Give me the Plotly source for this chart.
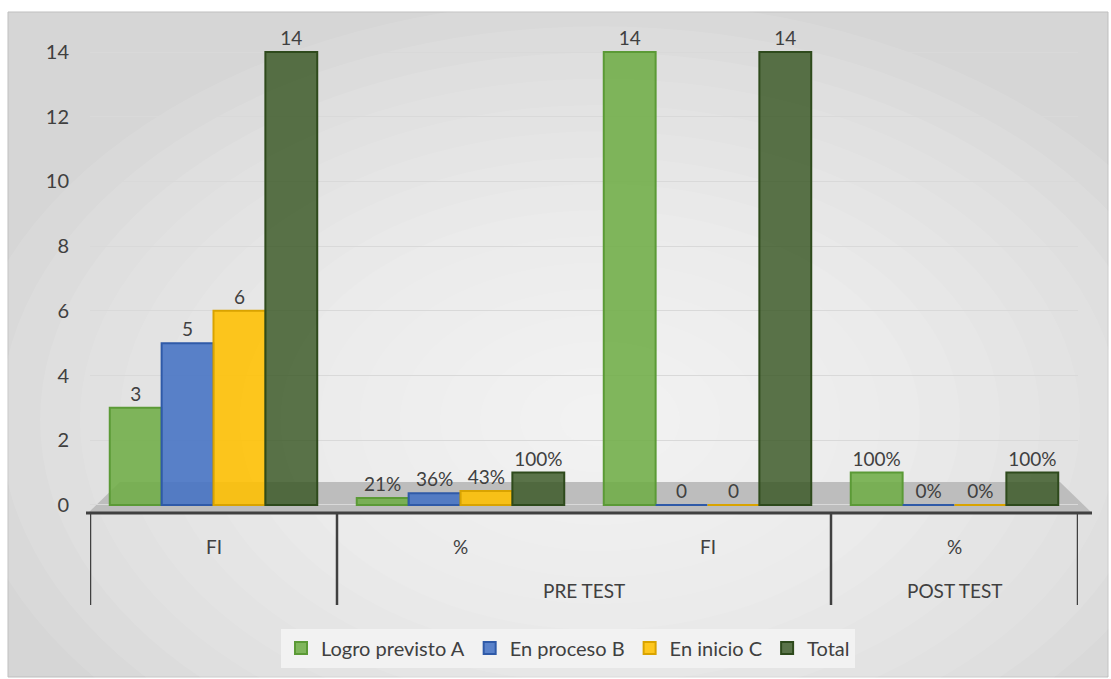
import plotly.graph_objects as go

categories = ["FI", "%", "FI", "%"]
groups = ["PRE TEST", "POST TEST"]
series_names = ["Logro previsto A", "En proceso B", "En inicio C", "Total"]
values = {
    "Logro previsto A": [3, 0.21, 14, 1.00],
    "En proceso B": [5, 0.36, 0, 0.00],
    "En inicio C": [6, 0.43, 0, 0.00],
    "Total": [14, 1.00, 14, 1.00],
}
labels = {
    "Logro previsto A": ["3", "21%", "14", "100%"],
    "En proceso B": ["5", "36%", "0", "0%"],
    "En inicio C": ["6", "43%", "0", "0%"],
    "Total": ["14", "100%", "14", "100%"],
}
fills = {
    "Logro previsto A": "rgba(112,173,71,0.88)",
    "En proceso B": "rgba(68,114,196,0.88)",
    "En inicio C": "rgba(255,192,0,0.88)",
    "Total": "rgba(56,87,35,0.82)",
}
edges = {
    "Logro previsto A": "#5b9a36",
    "En proceso B": "#2f5aa8",
    "En inicio C": "#d9a300",
    "Total": "#2e4a1c",
}

FONT = "Lato, 'Open Sans', sans-serif"
FS = 19
W, H = 1111, 679
L, R, T, B = 90, 33, 30, 166
pw, ph = W - L - R, H - T - B

def px_x(p):
    return (p - L) / pw

def px_y(p):
    return (H - B - p) / ph

xs = list(range(len(categories)))
fig = go.Figure()
for name in series_names:
    fig.add_trace(go.Bar(
        x=xs, y=values[name], name=name,
        text=labels[name], textposition="outside",
        textfont=dict(size=FS, color="#404040", family=FONT),
        marker=dict(color=fills[name], line=dict(color=edges[name], width=2)),
        cliponaxis=False,
    ))

shapes = []
shapes.append(dict(type="rect", xref="paper", yref="paper",
                   x0=px_x(8), x1=px_x(1108), y0=px_y(677), y1=px_y(12),
                   fillcolor="#d6d6d6", line=dict(color="#bfbfbf", width=1), layer="below"))
cx, cy = 600, 420
n = 16
for i in range(n):
    f = 1 - i / n
    rx, ry = 640 * f, 420 * f
    shapes.append(dict(type="circle", xref="paper", yref="paper",
                       x0=px_x(cx - rx), x1=px_x(cx + rx), y0=px_y(cy + ry), y1=px_y(cy - ry),
                       fillcolor="rgba(255,255,255,0.09)", line=dict(width=0), layer="below"))
# floor
shapes.append(dict(type="path", xref="paper", yref="paper",
                   path=f"M {px_x(88)},{px_y(513)} L {px_x(120)},{px_y(482)} L {px_x(1060)},{px_y(482)} L {px_x(1092)},{px_y(513)} Z",
                   fillcolor="#bdbdbd", line=dict(width=0), layer="below"))
# axis line
shapes.append(dict(type="line", xref="paper", yref="paper",
                   x0=px_x(86), x1=px_x(1092), y0=px_y(513), y1=px_y(513),
                   line=dict(color="#404040", width=3)))
for b in [-0.5, 0.5, 2.5, 3.5]:
    shapes.append(dict(type="line", xref="x", yref="paper",
                       x0=b, x1=b, y0=px_y(513), y1=px_y(605),
                       line=dict(color="#404040", width=2.5)))

annotations = []
for i, c in enumerate(categories):
    annotations.append(dict(x=i, y=px_y(546), xref="x", yref="paper", text=c, showarrow=False,
                            yanchor="middle", font=dict(size=FS, color="#404040", family=FONT)))
annotations.append(dict(x=1.5, y=px_y(590), xref="x", yref="paper", text=groups[0], showarrow=False,
                        yanchor="middle", font=dict(size=FS, color="#404040", family=FONT)))
annotations.append(dict(x=3, y=px_y(590), xref="x", yref="paper", text=groups[1], showarrow=False,
                        yanchor="middle", font=dict(size=FS, color="#404040", family=FONT)))

fig.update_layout(
    width=W, height=H,
    margin=dict(l=L, r=R, t=T, b=B),
    paper_bgcolor="white", plot_bgcolor="rgba(0,0,0,0)",
    barmode="group", bargap=0.16, bargroupgap=0,
    font=dict(family=FONT, size=FS, color="#404040"),
    xaxis=dict(range=[-0.5, 3.5], showticklabels=False, showgrid=False, zeroline=False, showline=False),
    yaxis=dict(range=[-0.25, 14.68], tickvals=[0, 2, 4, 6, 8, 10, 12, 14], showgrid=True,
               gridcolor="#d9d9d9", gridwidth=1, zeroline=False, showline=False,
               tickfont=dict(size=20, color="#404040", family=FONT), ticklabelstandoff=20),
    showlegend=True,
    legend=dict(orientation="h", x=px_x(568), xanchor="center", y=px_y(648), yanchor="middle",
                bgcolor="#f2f2f2", font=dict(size=20, color="#404040", family=FONT),
                itemwidth=30, traceorder="normal", entrywidth=0),
    shapes=shapes, annotations=annotations,
)

fig.write_html("out.html")
